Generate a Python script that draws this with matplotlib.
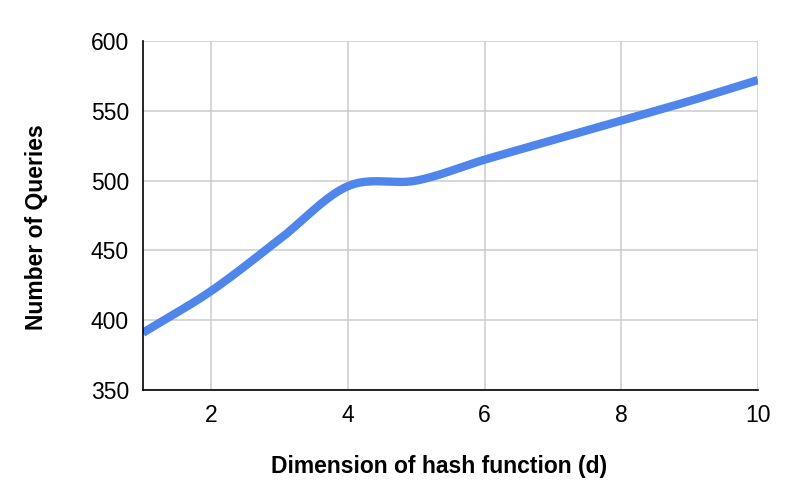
import numpy as np
import matplotlib
matplotlib.use("Agg")
import matplotlib.pyplot as plt

plt.rcParams['font.family'] = ['Liberation Sans', 'DejaVu Sans']

# data
dims = [1, 2, 3, 4, 5, 6, 7, 8, 9, 10]
queries = [391, 421, 458, 496, 500, 515, 529, 543, 557, 572]

x_ticks = [2, 4, 6, 8, 10]
y_ticks = [350, 400, 450, 500, 550, 600]


def smooth(xs, ys, k=1.0, n=40):
    # cardinal spline through the points (like the sheets "smooth" line)
    xs = np.asarray(xs, float)
    ys = np.asarray(ys, float)
    m = np.zeros_like(ys)
    m[1:-1] = k * (ys[2:] - ys[:-2]) / (xs[2:] - xs[:-2])
    m[0] = (ys[1] - ys[0]) / (xs[1] - xs[0])
    m[-1] = (ys[-1] - ys[-2]) / (xs[-1] - xs[-2])
    out_x, out_y = [], []
    for i in range(len(xs) - 1):
        h = xs[i + 1] - xs[i]
        t = np.linspace(0, 1, n, endpoint=False)
        h00 = 2 * t**3 - 3 * t**2 + 1
        h10 = t**3 - 2 * t**2 + t
        h01 = -2 * t**3 + 3 * t**2
        h11 = t**3 - t**2
        out_x.append(xs[i] + t * h)
        out_y.append(h00 * ys[i] + h10 * h * m[i] + h01 * ys[i + 1] + h11 * h * m[i + 1])
    out_x.append([xs[-1]])
    out_y.append([ys[-1]])
    return np.concatenate(out_x), np.concatenate(out_y)


fig = plt.figure(figsize=(7.96, 4.92), dpi=100)
ax = fig.add_axes([0.1796, 0.2073, 0.7726, 0.7094])

sx, sy = smooth(dims, queries)
ax.plot(sx, sy, color='#5086ec', lw=6, solid_capstyle='butt', zorder=3)

ax.set_xlim(1, 10)
ax.set_ylim(350, 600)
ax.set_xticks(x_ticks)
ax.set_yticks(y_ticks)
ax.grid(True, color='#cccccc', lw=1.1)
ax.set_axisbelow(True)
ax.tick_params(length=0, labelsize=16.5, pad=10, colors='black')

for s in ['top', 'right']:
    ax.spines[s].set_visible(False)
for s in ['left', 'bottom']:
    ax.spines[s].set_linewidth(1.2)
    ax.spines[s].set_zorder(4)

# sheets centres the titles a bit off the plot centre
ax.set_xlabel('Dimension of hash function (d)', fontsize=16.5, fontweight='bold')
ax.set_ylabel('Number of Queries', fontsize=16.5, fontweight='bold')
ax.xaxis.set_label_coords(0.482, -0.186)
ax.yaxis.set_label_coords(-0.155, 0.467)

fig.savefig('out.png', dpi=100)
